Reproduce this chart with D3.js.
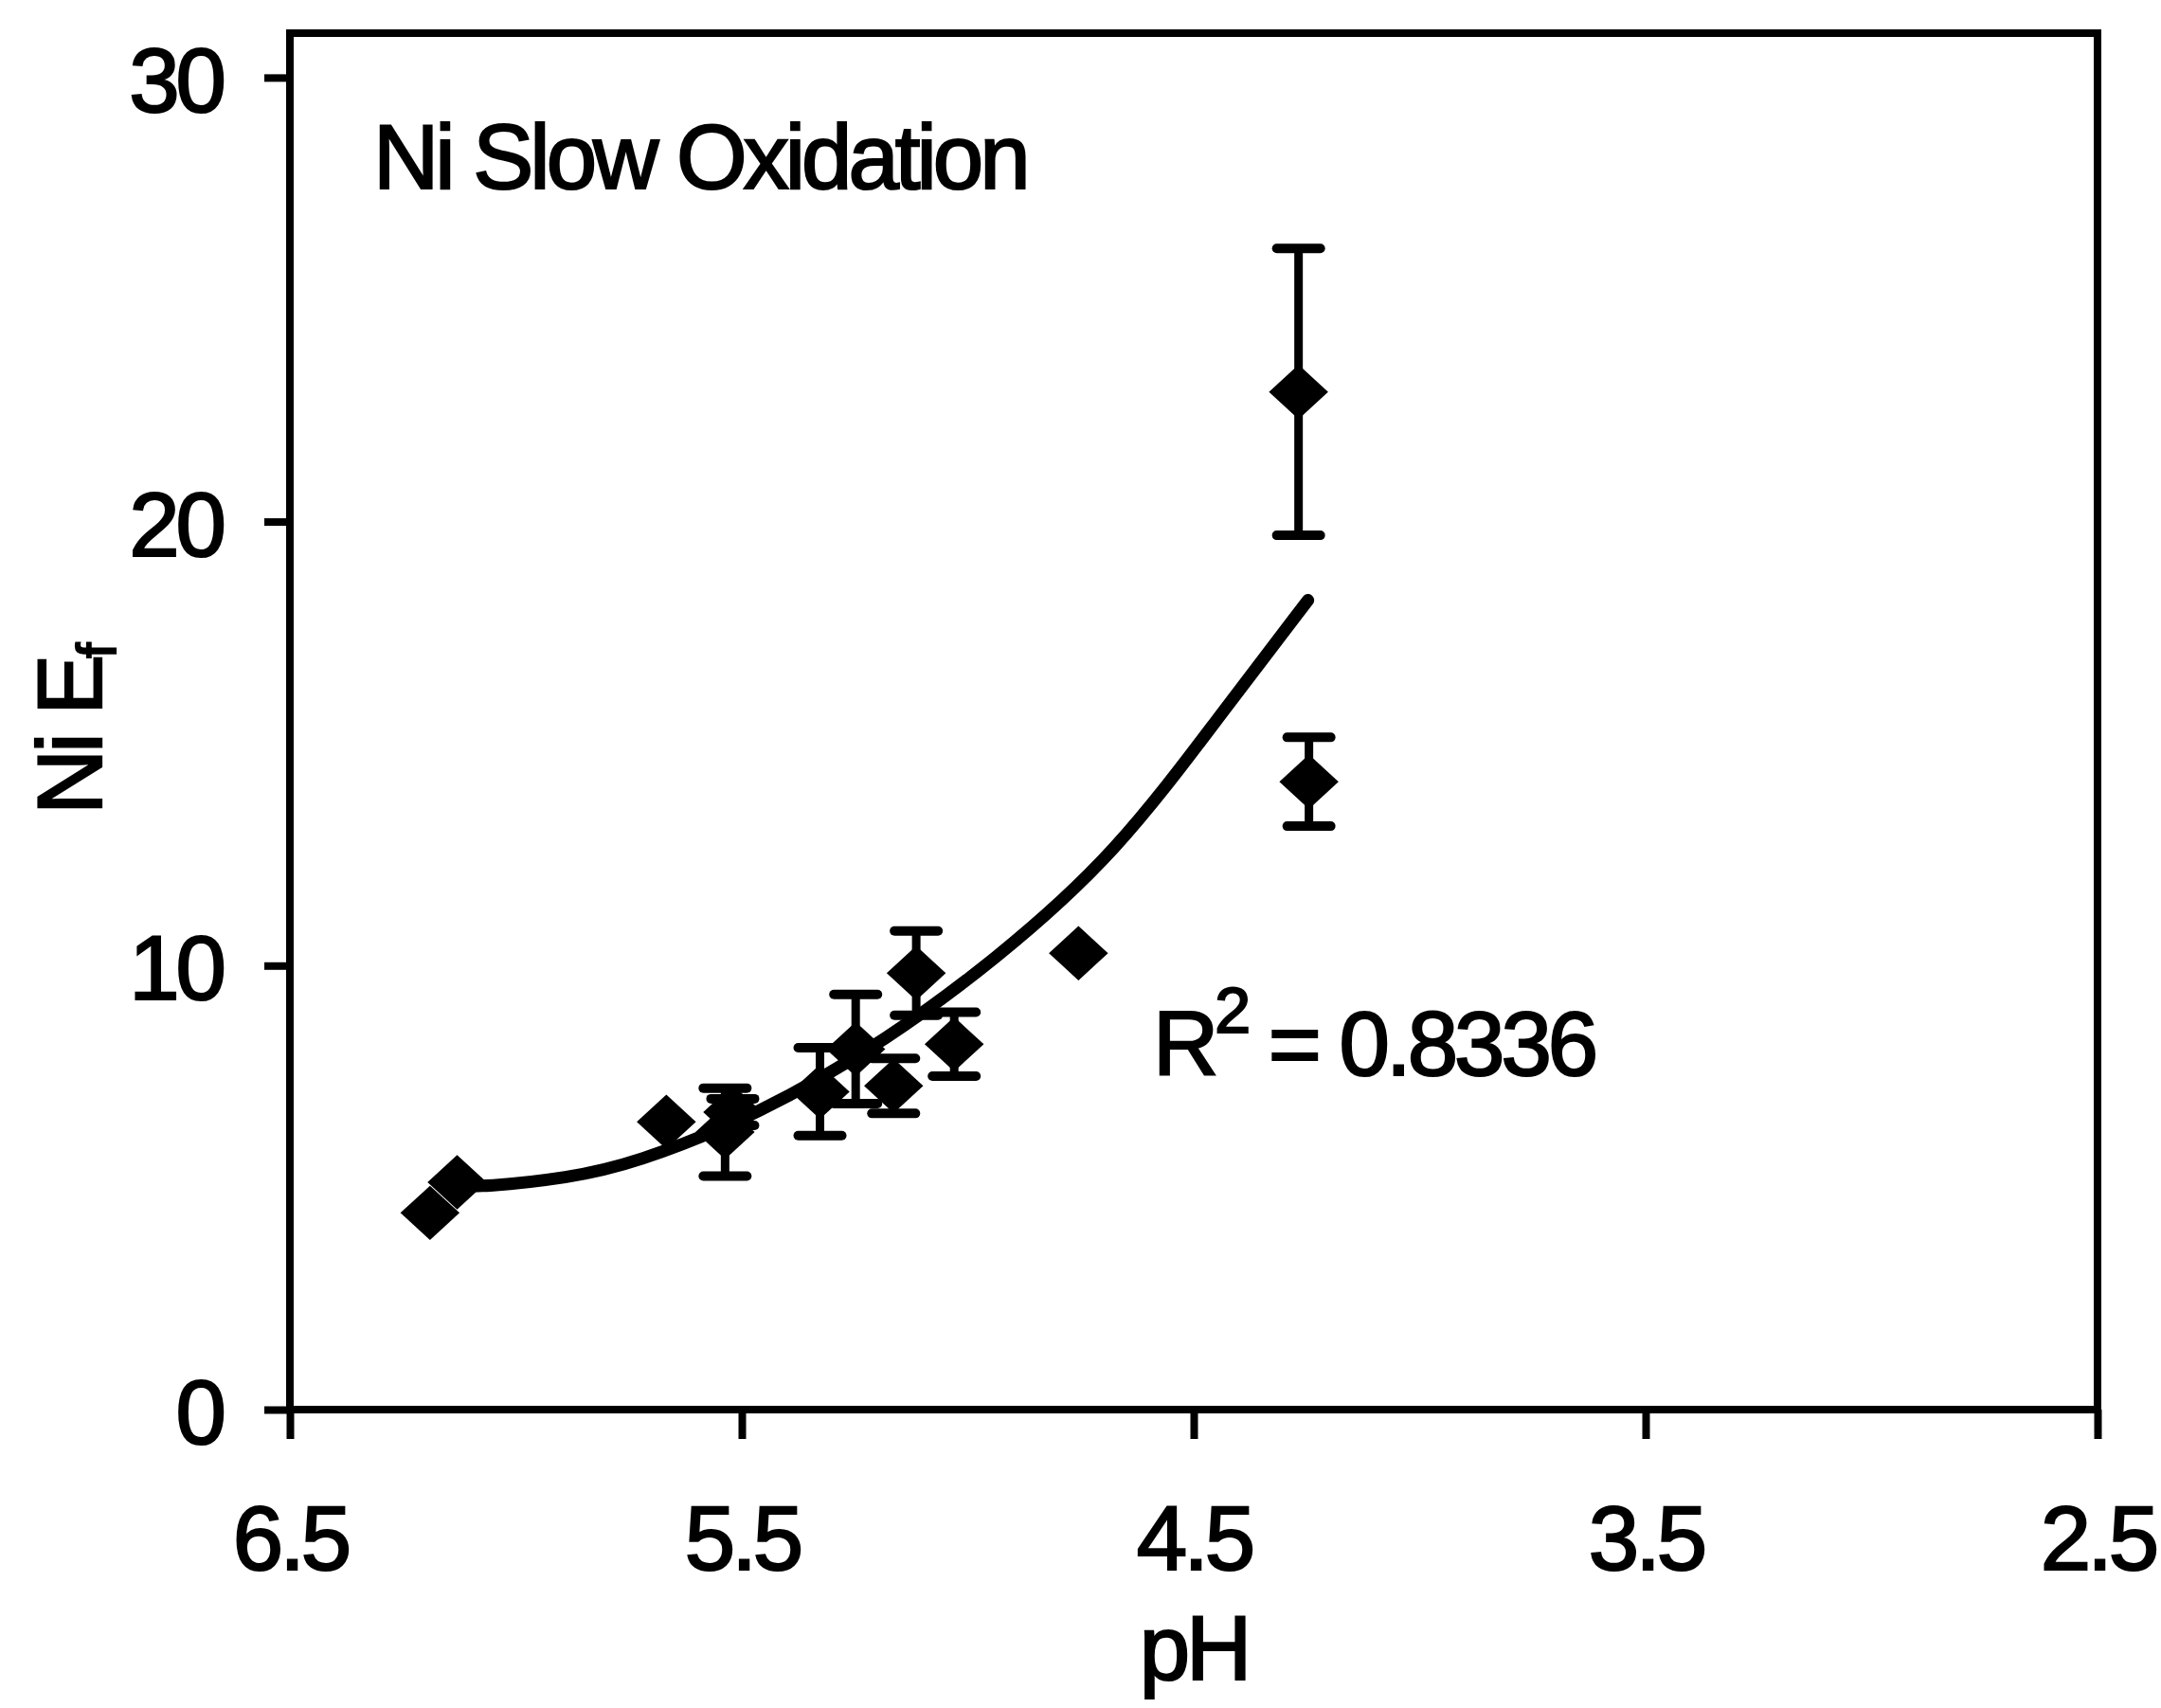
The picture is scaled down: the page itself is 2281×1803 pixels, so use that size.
<!DOCTYPE html>
<html>
<head>
<meta charset="utf-8">
<script src="https://cdn.jsdelivr.net/npm/d3@7"></script>
<style>
    html, body { margin: 0; padding: 0; background: #fff; overflow: hidden; }
    svg { display: block; }
    text { font-family: "Liberation Sans", Arial, Helvetica, sans-serif; fill: #000; stroke: #000; stroke-width: 2.2px; }
</style>
</head>
<body>
<div id="chart"></div>
<script>
// ============================================================================
// Ni Slow Oxidation - Ni Ef vs pH, points avec barres d'erreur + courbe de tendance
// ============================================================================

const phValues  = [6.19, 6.13, 5.667, 5.52, 5.537, 5.327, 5.248, 5.164, 5.114, 5.030, 4.755, 4.268, 4.245];
const efValues  = [4.43, 5.12, 6.48, 6.70, 6.25, 7.16, 8.12, 7.29, 9.83, 8.23, 10.28, 22.92, 14.14];
const efErrors  = [0, 0, 0, 0.3, 0.99, 0.99, 1.23, 0.62, 0.95, 0.72, 0, 3.23, 1.0];

// Courbe de tendance (points relevés le long du tracé)
const fitPH = [6.13, 6.072, 5.883, 5.743, 5.464, 5.176, 4.939, 4.673, 4.430, 4.247];
const fitEf = [5.05, 5.01, 5.22, 5.52, 6.63, 8.34, 10.13, 12.49, 15.80, 18.23];

// Axes
const xTicks = [6.5, 5.5, 4.5, 3.5, 2.5];
const yTicks = [0, 10, 20, 30];

const titleText = 'Ni Slow Oxidation';
const r2Value = '0.8336';

const width = 2281;
const height = 1803;
const margin = { top: 35, right: 67, bottom: 315, left: 306 };
const innerWidth = width - margin.left - margin.right;
const innerHeight = height - margin.top - margin.bottom;

const fontSize = 96;
const spacing = '-4px';

const svg = d3.select('#chart')
    .append('svg')
    .attr('width', width)
    .attr('height', height);

const g = svg.append('g')
    .attr('transform', `translate(${margin.left},${margin.top})`);

const xScale = d3.scaleLinear()
    .domain([6.5, 2.5])
    .range([0, innerWidth]);

const yScale = d3.scaleLinear()
    .domain([0, 31])
    .range([innerHeight, 0]);

// Axe X
const xAxis = g.append('g')
    .attr('transform', `translate(0,${innerHeight})`)
    .call(d3.axisBottom(xScale)
        .tickValues(xTicks)
        .tickFormat(d3.format('.1f'))
        .tickSize(31)
        .tickPadding(70));

// Axe Y
const yAxis = g.append('g')
    .call(d3.axisLeft(yScale)
        .tickValues(yTicks)
        .tickSize(27)
        .tickPadding(44));

[xAxis, yAxis].forEach(ax => {
    ax.select('.domain').remove();
    ax.selectAll('line')
        .attr('stroke', '#000')
        .attr('stroke-width', 8);
    ax.selectAll('text')
        .style('font-family', '"Liberation Sans", Arial, sans-serif')
        .style('font-size', fontSize + 'px')
        .style('letter-spacing', spacing)
        .attr('fill', '#000');
});
yAxis.selectAll('text').attr('dy', '0.37em');

// Cadre
g.append('rect')
    .attr('x', 0)
    .attr('y', 0)
    .attr('width', innerWidth)
    .attr('height', innerHeight)
    .attr('fill', 'none')
    .attr('stroke', '#000')
    .attr('stroke-width', 8);

// Données
const points = phValues.map((ph, i) => ({ ph, ef: efValues[i], err: efErrors[i] }));
const fitData = fitPH.map((ph, i) => ({ ph, ef: fitEf[i] }));

// Barres d'erreur
const capHalf = 23;
const bars = g.selectAll('.err')
    .data(points.filter(d => d.err > 0))
    .enter()
    .append('g')
    .attr('class', 'err');

bars.append('line')
    .attr('x1', d => xScale(d.ph))
    .attr('x2', d => xScale(d.ph))
    .attr('y1', d => yScale(d.ef - d.err))
    .attr('y2', d => yScale(d.ef + d.err))
    .attr('stroke', '#000')
    .attr('stroke-width', 9);

[-1, 1].forEach(s => {
    bars.append('line')
        .attr('x1', d => xScale(d.ph) - capHalf)
        .attr('x2', d => xScale(d.ph) + capHalf)
        .attr('y1', d => yScale(d.ef + s * d.err))
        .attr('y2', d => yScale(d.ef + s * d.err))
        .attr('stroke', '#000')
        .attr('stroke-width', 10)
        .attr('stroke-linecap', 'round');
});

// Losanges
const diamond = d3.symbol().type(d3.symbolSquare).size(1950);
g.selectAll('.pt')
    .data(points)
    .enter()
    .append('path')
    .attr('class', 'pt')
    .attr('d', diamond)
    .attr('transform', d => `translate(${xScale(d.ph)},${yScale(d.ef)}) scale(1,0.92) rotate(45)`)
    .attr('fill', '#000');

// Courbe de tendance
const line = d3.line()
    .x(d => xScale(d.ph))
    .y(d => yScale(d.ef))
    .curve(d3.curveBasis);

g.append('path')
    .datum(fitData)
    .attr('d', line)
    .attr('fill', 'none')
    .attr('stroke', '#000')
    .attr('stroke-width', 13)
    .attr('stroke-linecap', 'round');

// Titre dans le graphe
g.append('text')
    .attr('x', 88)
    .attr('y', 164)
    .style('font-size', fontSize + 'px')
    .style('letter-spacing', spacing)
    .text(titleText);

// R²
const r2 = g.append('text')
    .attr('x', 911)
    .attr('y', 1100)
    .style('font-size', fontSize + 'px')
    .style('letter-spacing', spacing);
r2.append('tspan').text('R');
r2.append('tspan')
    .attr('dy', -45)
    .style('font-size', '68px')
    .text('2');
r2.append('tspan')
    .attr('dy', 45)
    .style('font-size', fontSize + 'px')
    .text(' = ' + r2Value);

// Titres des axes
svg.append('text')
    .attr('x', margin.left + innerWidth / 2)
    .attr('y', 1773)
    .attr('text-anchor', 'middle')
    .style('font-size', fontSize + 'px')
    .style('letter-spacing', spacing)
    .text('pH');

const yLabel = svg.append('text')
    .attr('transform', 'translate(107,860) rotate(-90)')
    .style('font-size', fontSize + 'px')
    .style('letter-spacing', spacing);
yLabel.append('tspan').text('Ni E');
yLabel.append('tspan')
    .attr('dy', 15)
    .style('font-size', '58px')
    .text('f');
</script>
</body>
</html>
